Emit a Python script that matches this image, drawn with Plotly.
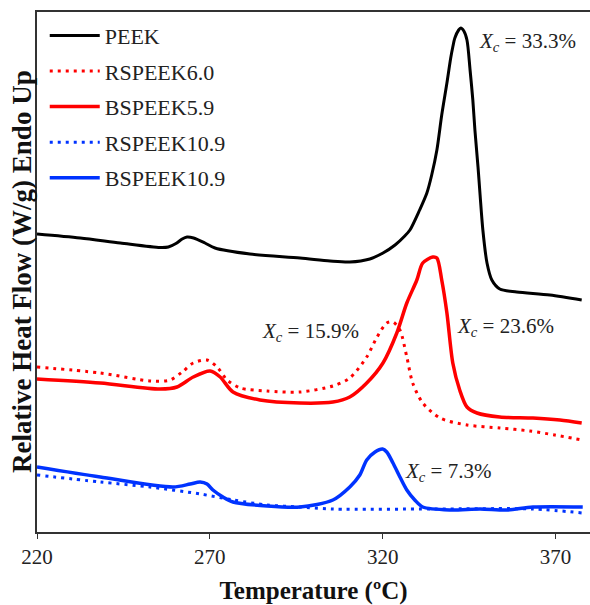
import plotly.graph_objects as go

# Temperature (°C) and relative heat flow (arbitrary units, endo up)
peek_T = [220.0, 232.5, 244.1, 255.6, 258.0, 260.2, 262.0, 263.4, 265.3, 268.6, 271.5, 281.6,
          296.1, 304.8, 310.5, 316.3, 320.1, 323.6, 326.4, 327.9, 330.7, 332.8, 334.2, 335.7,
          337.1, 338.6, 339.7, 340.3, 340.9, 342.0, 342.6, 343.5, 344.4, 345.3, 346.1, 346.7,
          347.6, 348.2, 349.0, 350.2, 351.6, 353.9, 358.8, 368.4, 377.6]
peek_Q = [2.98, 2.94, 2.89, 2.845, 2.85, 2.885, 2.93, 2.95, 2.94, 2.89, 2.84, 2.78,
          2.74, 2.71, 2.70, 2.73, 2.79, 2.87, 2.96, 3.02, 3.22, 3.39, 3.57, 3.82,
          4.17, 4.49, 4.74, 4.85, 4.94, 5.02, 5.04, 5.01, 4.92, 4.62, 4.32, 4.02,
          3.65, 3.37, 3.02, 2.69, 2.52, 2.43, 2.40, 2.37, 2.32]

rs60_T = [220.0, 238.3, 253.0, 258.5, 262.0, 265.2, 269.2, 272.1, 275.0, 278.8, 286.6, 296.1,
          305.6, 310.5, 315.4, 318.4, 321.2, 323.0, 325.0, 327.0, 328.7, 331.6, 336.6, 344.4,
          353.9, 362.6, 369.8, 377.6]
rs60_Q = [1.65, 1.59, 1.51, 1.52, 1.60, 1.69, 1.72, 1.65, 1.52, 1.44, 1.41, 1.40,
          1.46, 1.54, 1.75, 1.95, 2.09, 2.10, 2.02, 1.75, 1.49, 1.29, 1.14, 1.07,
          1.04, 1.01, 0.97, 0.92]

bs59_T = [220.0, 238.3, 255.6, 260.5, 265.2, 270.1, 273.0, 276.7, 284.5, 296.1, 305.6, 310.5,
          315.4, 320.1, 324.1, 327.0, 329.9, 331.6, 334.5, 335.7, 337.1, 338.6, 340.3, 342.3,
          344.4, 347.3, 353.9, 363.5, 371.3, 377.6]
bs59_Q = [1.53, 1.49, 1.43, 1.45, 1.55, 1.61, 1.55, 1.40, 1.32, 1.29, 1.30, 1.35,
          1.49, 1.69, 1.99, 2.29, 2.52, 2.69, 2.75, 2.74, 2.52, 2.19, 1.69, 1.42,
          1.25, 1.19, 1.15, 1.14, 1.12, 1.09]

rs109_T = [220.0, 238.3, 252.7, 267.2, 276.7, 286.6, 296.1, 305.6, 334.5, 363.5, 377.9]
rs109_Q = [0.57, 0.50, 0.45, 0.38, 0.32, 0.27, 0.25, 0.23, 0.23, 0.23, 0.19]

bs109_T = [220.0, 238.3, 259.4, 264.3, 267.2, 269.2, 270.9, 273.8, 276.7, 286.6, 296.1, 305.6,
           310.5, 313.4, 315.4, 317.8, 320.0, 321.2, 323.0, 325.0, 327.0, 329.3, 331.6, 339.4,
           348.2, 356.0, 363.5, 377.9]
bs109_Q = [0.65, 0.55, 0.45, 0.48, 0.50, 0.48, 0.42, 0.35, 0.30, 0.26, 0.25, 0.32,
           0.45, 0.57, 0.72, 0.80, 0.83, 0.80, 0.69, 0.55, 0.42, 0.32, 0.25, 0.22,
           0.23, 0.22, 0.25, 0.25]

names = ["PEEK", "RSPEEK6.0", "BSPEEK5.9", "RSPEEK10.9", "BSPEEK10.9"]
xc_labels = ["33.3%", "15.9%", "23.6%", "7.3%"]
xc_pos_T = [347.2, 284.5, 340.8, 326.0]
xc_pos_Q = [4.90, 2.00, 2.05, 0.60]

SERIF = "Times New Roman, Liberation Serif, serif"
RED = "#FF0000"
BLUE = "#0033FF"
DOT = "3px,5px"

series = [
    (peek_T, peek_Q, "#000000", 3, "solid"),
    (rs60_T, rs60_Q, RED, 3, DOT),
    (bs59_T, bs59_Q, RED, 3.5, "solid"),
    (rs109_T, rs109_Q, BLUE, 3, DOT),
    (bs109_T, bs109_Q, BLUE, 3.5, "solid"),
]

fig = go.Figure()
for (t, q, c, w, d), n in zip(series, names):
    fig.add_trace(go.Scatter(
        x=t, y=q, mode="lines", name=n, legendgroup=n,
        line=dict(color=c, width=w, dash=d, shape="spline", smoothing=0.8),
    ))

for lab, tx, ty in zip(xc_labels, xc_pos_T, xc_pos_Q):
    fig.add_annotation(x=tx, y=ty, xref="x", yref="y", xanchor="left", yanchor="middle",
                       text=f"<i>X</i><sub><i>c</i></sub> = {lab}", showarrow=False,
                       font=dict(family=SERIF, size=21, color="#222"))

# y-axis title placed as rotated text left of the axis
fig.add_annotation(x=-0.027, y=0.5, xref="paper", yref="paper", xanchor="center", yanchor="middle",
                   text="<b>Relative Heat Flow (W/g) Endo Up</b>", textangle=-90, showarrow=False,
                   font=dict(family=SERIF, size=27, color="#111"))

fig.update_layout(
    width=590, height=605,
    margin=dict(l=37, r=0, t=12, b=73),
    paper_bgcolor="white", plot_bgcolor="white",
    font=dict(family=SERIF, size=21, color="#222"),
    showlegend=True,
    legend=dict(x=0.014, y=0.995, xanchor="left", yanchor="top",
                bgcolor="rgba(0,0,0,0)", traceorder="grouped", tracegroupgap=4,
                itemwidth=50, font=dict(family=SERIF, size=22, color="#222")),
    xaxis=dict(range=[220, 380], tickvals=[220, 270, 320, 370], showgrid=False, zeroline=False,
               showline=True, linecolor="#333", linewidth=1.5, mirror=True,
               ticks="outside", ticklen=5, tickcolor="#333",
               tickfont=dict(family=SERIF, size=21, color="#222"),
               title=dict(text="<b>Temperature (ºC)</b>", standoff=16,
                          font=dict(family=SERIF, size=25, color="#111"))),
    yaxis=dict(range=[0, 5.2], showgrid=False, zeroline=False, showticklabels=False,
               showline=True, linecolor="#333", linewidth=1.5, ticks=""),
)

fig.write_html("out.html")
